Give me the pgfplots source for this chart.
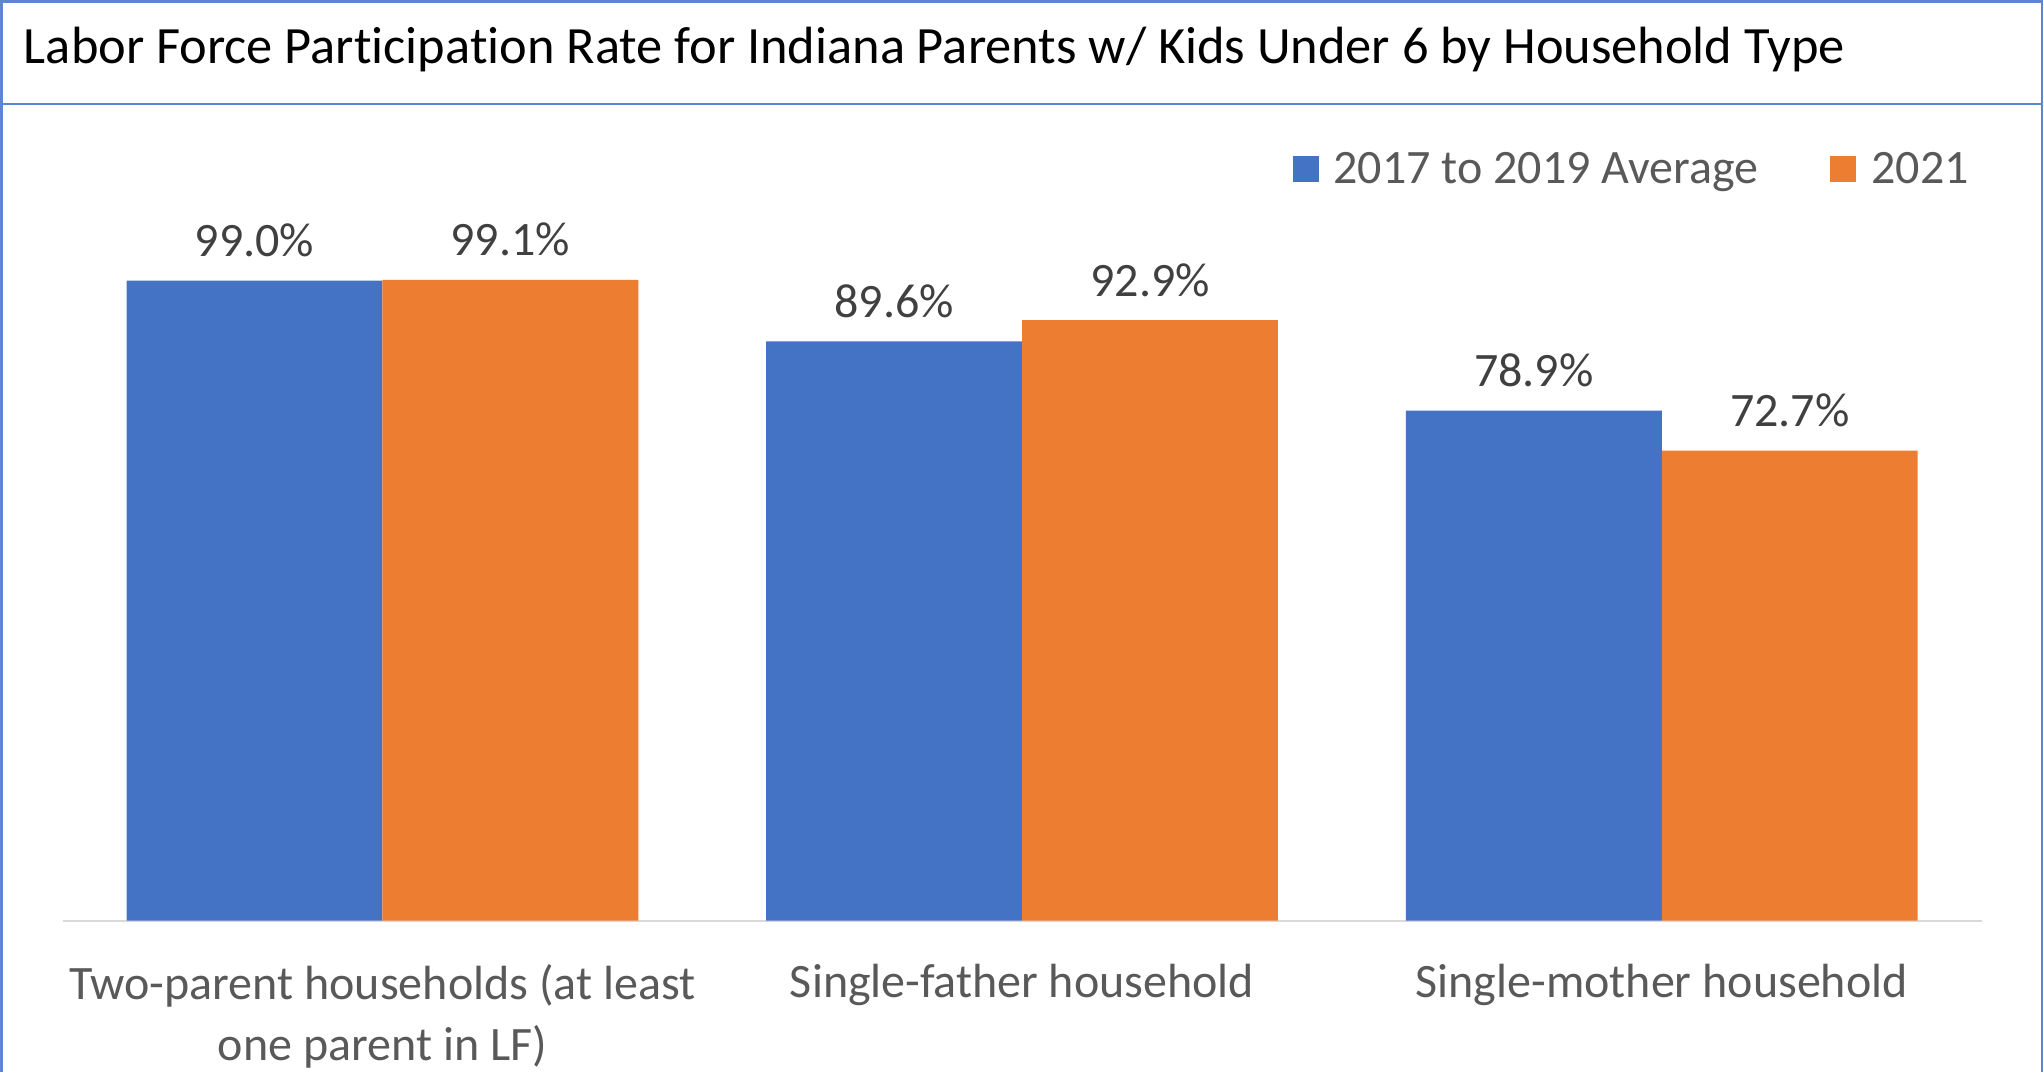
\documentclass[border=0pt]{standalone}
\usepackage{pgfplots}
\pgfplotsset{compat=1.18}
\usepackage{fontspec}
\setmainfont[Ligatures=NoCommon]{Carlito}
\definecolor{xlblue}{HTML}{4472C4}
\definecolor{xlorange}{HTML}{ED7D31}
\definecolor{framecol}{HTML}{5B86D0}
\definecolor{lblgray}{HTML}{404040}
\definecolor{txtgray}{HTML}{595959}
\definecolor{axgray}{HTML}{D9D9D9}
\begin{document}
\begin{tikzpicture}[x=1pt,y=1pt]
	\useasboundingbox (0,0) rectangle (1022,535.5);
	% frame round title and chart
	\draw[framecol, line width=1.3pt] (0.65,-5) -- (0.65,534.85) -- (1021,534.85) -- (1021,-5);
	\draw[framecol, line width=1.3pt] (0.65,483.5) -- (1021,483.5);
	\node[anchor=base west, inner sep=0pt, font=\fontsize{26.2}{31}\selectfont] at (11.75,503.5)
		{Labor Force Participation Rate for Indiana Parents w/ Kids Under 6 by Household Type};
	
	\begin{axis}[
		at={(31.3pt,75.15pt)}, anchor=south west,
		scale only axis,
		width=959.5pt, height=323.3pt,
		xmin=-0.5, xmax=2.5,
		ymin=0, ymax=100,
		ybar=0pt, bar width=0.4,
		clip=false,
		axis x line*=bottom,
		axis y line=none,
		x axis line style={draw=axgray, line width=1pt},
		major tick length=0pt,
		xtick={0,1,2},
		xticklabels={{Two-parent households (at least\\one parent in LF)},
			{Single-father household},
			{Single-mother household}},
		xticklabel style={font=\fontsize{24}{30.5}\selectfont, text=txtgray,
			align=center, inner sep=0pt, anchor=north, yshift=-21.6pt},
		ytick=\empty,
		/pgf/number format/assume math mode=true,
		nodes near coords={\pgfmathprintnumber[fixed,fixed zerofill,precision=1]{\pgfplotspointmeta}\%},
		every node near coord/.append style={font=\fontsize{24}{29}\selectfont,
			text=lblgray, anchor=base, inner sep=0pt, yshift=12pt},
		legend columns=2,
		legend image code/.code={\fill[#1] (0pt,-6.5pt) rectangle (13pt,6.5pt);},
		legend style={at={(axis description cs:0.9935,1.162)}, anchor=east,
			draw=none, fill=none, inner sep=0pt,
			font=\fontsize{24}{29}\selectfont, text=txtgray,
			nodes={inner sep=0pt},
			/tikz/every odd column/.append style={column sep=7.5pt},
			/tikz/every even column/.append style={column sep=36pt}},
		]
		\addplot[fill=xlblue, draw=none] coordinates {(0,99.0) (1,89.6) (2,78.9)};
		\addlegendentry{2017 to 2019 Average}
		\addplot[fill=xlorange, draw=none] coordinates {(0,99.1) (1,92.9) (2,72.7)};
		\addlegendentry{2021}
	\end{axis}
\end{tikzpicture}
\end{document}
